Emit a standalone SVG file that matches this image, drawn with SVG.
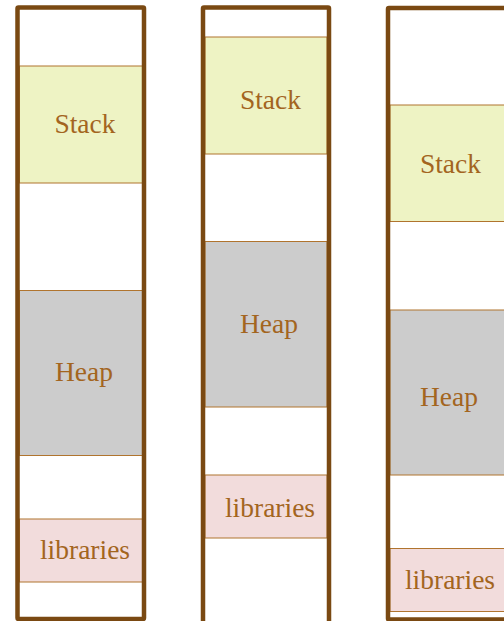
<svg xmlns="http://www.w3.org/2000/svg" width="504" height="621" viewBox="0 0 504 621">
<style>
.outer{fill:none;stroke:#7a4912;stroke-width:4.5;stroke-linejoin:round}
.seg{stroke:#b0742e;stroke-width:1}
.stack{fill:#eef3c4}
.heap{fill:#cccccc}
.lib{fill:#f2dcdc}
.lbl{font-size:27.5px;fill:#a3651f;text-anchor:middle}
</style>
<rect width="504" height="621" fill="#ffffff"/>
<g id="col1">
<rect class="seg stack" x="19.5" y="66" width="123" height="117"/>
<rect class="seg heap" x="19.5" y="290.5" width="123" height="165"/>
<rect class="seg lib" x="19.5" y="519" width="123" height="63"/>
<rect class="outer" x="17.5" y="7.5" width="126.5" height="611.5" rx="1"/>
<text class="lbl" font-family="Liberation Serif, DejaVu Serif, serif" x="85" y="133">Stack</text>
<text class="lbl" font-family="Liberation Serif, DejaVu Serif, serif" x="84" y="381">Heap</text>
<text class="lbl" font-family="Liberation Serif, DejaVu Serif, serif" x="85" y="559">libraries</text>
</g>
<g id="col2">
<rect class="seg stack" x="205" y="37" width="122" height="117"/>
<rect class="seg heap" x="205" y="241.5" width="122" height="165.5"/>
<rect class="seg lib" x="205" y="475" width="122" height="63"/>
<rect class="outer" x="203" y="7.5" width="126" height="640" rx="1"/>
<text class="lbl" font-family="Liberation Serif, DejaVu Serif, serif" x="270.5" y="109">Stack</text>
<text class="lbl" font-family="Liberation Serif, DejaVu Serif, serif" x="269" y="333">Heap</text>
<text class="lbl" font-family="Liberation Serif, DejaVu Serif, serif" x="270" y="517">libraries</text>
</g>
<g id="col3">
<rect class="seg stack" x="390" y="105" width="140" height="116.5"/>
<rect class="seg heap" x="390" y="310" width="140" height="165"/>
<rect class="seg lib" x="390" y="548.5" width="140" height="63"/>
<rect class="outer" x="388" y="8" width="140" height="611.5" rx="1"/>
<text class="lbl" font-family="Liberation Serif, DejaVu Serif, serif" x="450.5" y="173">Stack</text>
<text class="lbl" font-family="Liberation Serif, DejaVu Serif, serif" x="449" y="406">Heap</text>
<text class="lbl" font-family="Liberation Serif, DejaVu Serif, serif" x="450" y="589">libraries</text>
</g>
<g id="connectors"></g>
</svg>
